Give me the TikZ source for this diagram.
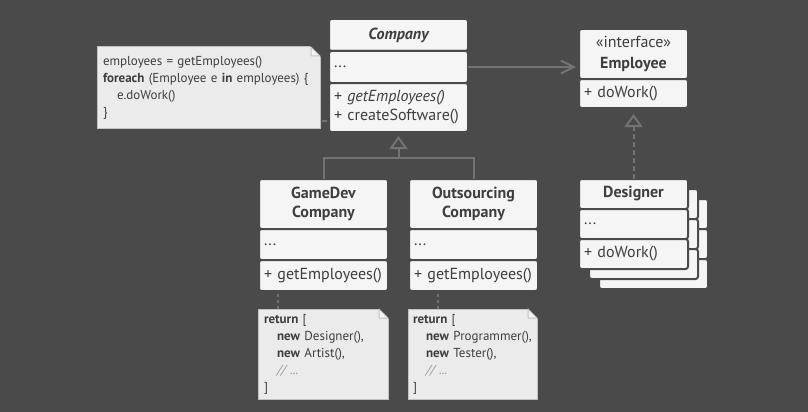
\documentclass[tikz,border=0pt]{standalone}
\usepackage{fontspec}
\setmainfont{PT Sans}
\usetikzlibrary{arrows.meta,positioning}

\definecolor{bg}{HTML}{4A4A4A}
\definecolor{boxfill}{HTML}{F5F5F5}
\definecolor{ink}{HTML}{3E3E3E}
\definecolor{wire}{HTML}{737373}
\definecolor{notefill}{HTML}{EBEBEB}
\definecolor{noteedge}{HTML}{C2C2C2}
\definecolor{notefold}{HTML}{F4F4F4}
\definecolor{comment}{HTML}{9A9A9A}

\tikzset{
  sect/.style={draw=bg, line width=2pt, fill=boxfill, rounded corners=2.5pt,
    text=ink, inner xsep=5pt, inner ysep=1pt, outer sep=0pt,
    font=\fontsize{16}{19}\selectfont},
  titlesect/.style={sect, align=center, font=\fontsize{16}{19}\selectfont\bfseries},
  listsect/.style={sect, align=left},
  notebox/.style={draw=noteedge, line width=1pt, fill=notefill, text=ink,
    inner xsep=6pt, inner ysep=2pt, outer sep=0pt, align=left, anchor=north west,
    font=\fontsize{13}{17}\selectfont},
  wireline/.style={draw=wire, line width=2pt},
  assoc/.style={wireline, -{Straight Barb[length=13pt,width=13pt,line width=2pt]}, shorten >=3pt},
  inherit/.style={wireline, -{Triangle[open,length=13pt,width=18pt,line width=2pt,fill=bg]}, shorten >=4pt},
  realize/.style={inherit, dash pattern=on 5pt off 3pt, shorten >=6pt},
  notelink/.style={wireline, dash pattern=on 3pt off 3pt}
}

\begin{document}
\begin{tikzpicture}[x=1pt,y=-1pt]
  \useasboundingbox (0,0) rectangle (808,412);
  \fill[bg] (0,0) rectangle (808,412);

  % Company
  \node[titlesect, anchor=north west, text width=129pt, minimum height=32pt,
    font=\fontsize{16}{19}\selectfont\bfseries\itshape] (comptitle) at (329,19) {Company};
  \node[listsect, below=0pt of comptitle, text width=129pt, minimum height=32pt] (compfields) {...};
  \node[listsect, below=0pt of compfields, text width=129pt, minimum height=49pt] (compmeth)
    {+ \textit{getEmployees()}\\+ createSoftware()};

  % Employee
  \node[sect, align=center, anchor=north west, text width=99pt, minimum height=50pt,
    font=\fontsize{16}{21}\selectfont] (emptitle) at (579,29) {«interface»\\\textbf{Employee}};
  \node[listsect, below=0pt of emptitle, text width=99pt, minimum height=29pt] (empmeth) {+ doWork()};

  % Designer and the copies behind it
  \foreach \d in {20,10} {
    \node[sect, anchor=north west, text width=99pt, minimum height=30pt] (dback\d) at (579+\d,179+\d) {};
    \node[sect, below=0pt of dback\d, text width=99pt, minimum height=30pt] (dbackf\d) {};
    \node[sect, below=0pt of dbackf\d, text width=99pt, minimum height=30pt] {};
  }
  \node[titlesect, anchor=north west, text width=99pt, minimum height=30pt] (destitle) at (579,179) {Designer};
  \node[listsect, below=0pt of destitle, text width=99pt, minimum height=30pt] (desfields) {...};
  \node[listsect, below=0pt of desfields, text width=99pt, minimum height=30pt] (desmeth) {+ doWork()};

  % GameDevCompany
  \node[titlesect, anchor=north west, text width=119pt, minimum height=50pt] (gdtitle) at (259,179) {GameDev\\Company};
  \node[listsect, below=0pt of gdtitle, text width=119pt, minimum height=31pt] (gdfields) {...};
  \node[listsect, below=0pt of gdfields, text width=119pt, minimum height=31pt] (gdmeth) {+ getEmployees()};

  % OutsourcingCompany
  \node[titlesect, anchor=north west, text width=119pt, minimum height=50pt] (ostitle) at (409,179) {Outsourcing\\Company};
  \node[listsect, below=0pt of ostitle, text width=119pt, minimum height=31pt] (osfields) {...};
  \node[listsect, below=0pt of osfields, text width=119pt, minimum height=31pt] (osmeth) {+ getEmployees()};

  % notes
  \node[notebox, text width=211pt, minimum height=81pt] (codenote) at (97,47)
    {employees = getEmployees()\\
     \textbf{foreach} (Employee e \textbf{in} employees) \{\\
     \hspace*{14pt}e.doWork()\\
     \}};
  \node[notebox, text width=118pt, minimum height=90pt] (gdnote) at (258,309)
    {\textbf{return} [\\
     \hspace*{13pt}\textbf{new} Designer(),\\
     \hspace*{13pt}\textbf{new} Artist(),\\
     \hspace*{13pt}{\color{comment}\textit{// ...}}\\
     ]};
  \node[notebox, text width=119pt, inner xsep=5pt, minimum height=90pt] (osnote) at (408,309)
    {\textbf{return} [\\
     \hspace*{13pt}\mbox{\textbf{new} Programmer(),}\\
     \hspace*{13pt}\textbf{new} Tester(),\\
     \hspace*{13pt}{\color{comment}\textit{// ...}}\\
     ]};
  \foreach \n in {codenote,gdnote,osnote} {
    \fill[bg] ([xshift=-10pt,yshift=1pt]\n.north east) -- ([xshift=1pt,yshift=1pt]\n.north east)
      -- ([xshift=1pt,yshift=-10pt]\n.north east) -- cycle;
    \filldraw[fill=notefold, draw=noteedge, line width=1pt, line join=round]
      ([xshift=-9pt]\n.north east) -- ([xshift=-9pt,yshift=-9pt]\n.north east)
      -- ([yshift=-9pt]\n.north east) -- cycle;
  }

  % connectors
  \draw[assoc] (compfields.east) -- (compfields.east -| emptitle.west);
  \coordinate (joint) at (398.5,158);
  \draw[wireline] (gdtitle.north) |- (joint) -| (ostitle.north);
  \draw[inherit] (joint) -- (compmeth.south);
  \draw[realize] (destitle.north) -- (empmeth.south);
  \draw[notelink, dash pattern=on 5pt off 3pt, shorten <=2pt, shorten >=2pt]
    ([yshift=7pt]codenote.south east) -- ([yshift=7pt]codenote.south east -| compmeth.west);
  \draw[notelink] ([xshift=20pt]gdnote.north west) -- ([xshift=20pt]gdnote.north west |- gdmeth.south);
  \draw[notelink] ([xshift=30pt]osnote.north west) -- ([xshift=30pt]osnote.north west |- osmeth.south);
\end{tikzpicture}
\end{document}
